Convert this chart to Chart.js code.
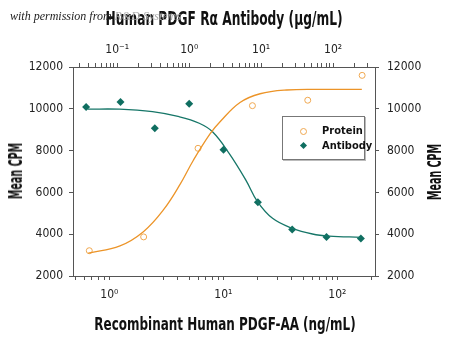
<!DOCTYPE html>
<html>
<head>
<meta charset="utf-8">
<script src="https://cdn.jsdelivr.net/npm/chart.js@4.4.1/dist/chart.umd.min.js"></script>
<style>
  body { margin: 0; background: #fff; }
  #wrap { position: relative; width: 450px; height: 339px; overflow: hidden; }
  .ttl { position: absolute; text-align: center; white-space: nowrap; color: #111;
         font-family: 'Liberation Sans Narrow', 'DejaVu Sans Condensed', sans-serif; font-weight: bold; }
  #topTitle { left: 24px; width: 400px; top: 8px; font-size: 20px; line-height: 20px; transform: scaleX(0.68); }
  #bottomTitle { left: 25px; width: 400px; top: 315px; font-size: 18px; line-height: 18px; transform: scaleX(0.74); }
  .side { width: 120px; height: 20px; font-size: 19px; line-height: 20px; transform: rotate(-90deg) scaleX(0.56); }
  #leftTitle { left: -45px; top: 161px; }
  #rightTitle { left: 374px; top: 162px; }
  #note { position: absolute; left: 10px; top: 9px; font: italic 12px 'Liberation Serif', serif; color: #222; white-space: nowrap; }
  #note span { color: #aaa; }
  #legend { position: absolute; left: 282px; top: 116px; width: 81px; height: 42px; border: 1px solid #777;
            box-shadow: 1px 1px 0 #bbb; background: #fff; color: #111;
            font: bold 11px 'Liberation Sans Narrow', 'DejaVu Sans Condensed', sans-serif; }
  .row { position: absolute; left: 0; height: 14px; line-height: 14px; }
  .row b { position: absolute; left: 39px; white-space: nowrap; }
  .circ { position: absolute; left: 17px; top: 4px; width: 5px; height: 5px; border: 1px solid #f0a850; border-radius: 50%; }
  .diam { position: absolute; left: 18px; top: 4px; width: 5px; height: 5px; background: #0f6e60; transform: rotate(45deg); }
</style>
</head>
<body>
<div id="wrap">
  <canvas id="chart"></canvas>
  <div class="ttl" id="topTitle">Human PDGF R&alpha; Antibody (&mu;g/mL)</div>
  <div class="ttl" id="bottomTitle">Recombinant Human PDGF-AA (ng/mL)</div>
  <div class="ttl side" id="leftTitle">Mean CPM</div>
  <div class="ttl side" id="rightTitle">Mean CPM</div>
  <div id="note">with permission from <span>R&amp;D Systems</span></div>
  <div id="legend">
    <div class="row" style="top:7px"><i class="circ"></i><b>Protein</b></div>
    <div class="row" style="top:22px"><i class="diam"></i><b>Antibody</b></div>
  </div>
</div>
<script>
// measured points
const proteinConc = [0.667, 2, 6, 18, 55, 165];
const proteinCpm = [3210, 3870, 8110, 10150, 10410, 11600];
const antibodyConc = [0.037, 0.111, 0.333, 1, 3, 9, 27, 81, 243];
const antibodyCpm = [10090, 10330, 9070, 10240, 8040, 5530, 4230, 3870, 3790];

// fitted curves
const proteinFitConc = [0.654, 1.24, 1.99, 2.98, 4.17, 5.46, 7.64, 9.36, 14.0, 21.0, 36.0, 70.5, 164];
const proteinFitCpm = [3090, 3440, 4120, 5160, 6380, 7540, 8800, 9380, 10300, 10720, 10900, 10930, 10930];
const antibodyFitConc = [0.0387, 0.107, 0.309, 0.726, 1.38, 2.11, 3.59, 6.13, 8.89, 14.4, 27.2, 51.6, 88, 243];
const antibodyFitCpm = [9980, 9980, 9860, 9620, 9310, 8900, 7870, 6590, 5560, 4760, 4280, 4010, 3910, 3850];

// axis ticks
const bottomTicks = [0.5, 0.6, 0.7, 0.8, 0.9, 1, 2, 3, 4, 5, 6, 7, 8, 9, 10, 20, 30, 40, 50, 60, 70, 80, 90, 100, 200];
const topTicks = [0.03, 0.04, 0.05, 0.06, 0.07, 0.08, 0.09, 0.1, 0.2, 0.3, 0.4, 0.5, 0.6, 0.7, 0.8, 0.9,
                  1, 2, 3, 4, 5, 6, 7, 8, 9, 10, 20, 30, 40, 50, 60, 70, 80, 90, 100, 200, 300];
const decadeLabels = { 0.1: '10\u207B\u00B9', 1: '10\u2070', 10: '10\u00B9', 100: '10\u00B2' };

const orange = 'rgb(236, 148, 40)';
const teal = 'rgb(22, 118, 104)';
const frame = '#555';
const narrow = "'Liberation Sans Narrow', 'DejaVu Sans Condensed', sans-serif";

function pairs(xs, ys) {
    return xs.map((x, i) => ({ x: x, y: ys[i] }));
}

function logAxis(pos, min, max, ticks, pad, size) {
    return {
        type: 'logarithmic',
        position: pos,
        min: min,
        max: max,
        afterBuildTicks: scale => { scale.ticks = ticks.map(v => ({ value: v })); },
        afterFit: scale => { scale.height = size; },
        grid: { drawOnChartArea: false, tickLength: 4, tickColor: frame },
        border: { display: true, color: frame, width: 1 },
        ticks: {
            autoSkip: false,
            maxRotation: 0,
            padding: pad,
            color: '#222',
            font: { family: narrow, size: 12 },
            callback: v => decadeLabels[v] || ''
        }
    };
}

function cpmAxis(pos, pad, size) {
    return {
        position: pos,
        min: 2000,
        max: 12000,
        afterFit: scale => { scale.width = size; },
        grid: { drawOnChartArea: false, tickLength: 4, tickColor: frame },
        border: { display: true, color: frame, width: 1 },
        ticks: {
            stepSize: 2000,
            padding: pad,
            color: '#222',
            font: { family: narrow, size: 12 },
            callback: v => String(v)
        }
    };
}

const ctx = document.getElementById('chart').getContext('2d');
const chart = new Chart(ctx, {
    type: 'line',
    data: {
        datasets: [
            {
                label: 'Protein fit',
                data: pairs(proteinFitConc, proteinFitCpm),
                xAxisID: 'x',
                yAxisID: 'y',
                borderColor: orange,
                borderWidth: 1.3,
                pointRadius: 0,
                tension: 0.4,
                fill: false
            },
            {
                label: 'Antibody fit',
                data: pairs(antibodyFitConc, antibodyFitCpm),
                xAxisID: 'x2',
                yAxisID: 'y',
                borderColor: teal,
                borderWidth: 1.3,
                pointRadius: 0,
                tension: 0.4,
                fill: false
            },
            {
                label: 'Protein',
                data: pairs(proteinConc, proteinCpm),
                xAxisID: 'x',
                yAxisID: 'y',
                showLine: false,
                pointStyle: 'circle',
                pointRadius: 3,
                pointBorderWidth: 1,
                pointBorderColor: 'rgb(240, 168, 80)',
                pointBackgroundColor: '#fff'
            },
            {
                label: 'Antibody',
                data: pairs(antibodyConc, antibodyCpm),
                xAxisID: 'x2',
                yAxisID: 'y',
                showLine: false,
                pointStyle: 'rectRot',
                pointRadius: 4,
                pointBorderWidth: 0,
                pointBackgroundColor: 'rgb(15, 110, 96)'
            }
        ]
    },
    options: {
        responsive: true,
        maintainAspectRatio: false,
        animation: false,
        layout: { padding: 0 },
        plugins: {
            legend: { display: false },
            tooltip: { enabled: false }
        },
        scales: {
            x: logAxis('bottom', 0.48, 214, bottomTicks, 8, 63),
            x2: logAxis('top', 0.0243, 382, topTicks, 6, 67),
            y: cpmAxis('left', 6, 73),
            y2: cpmAxis('right', 8, 75)
        }
    }
});
</script>
</body>
</html>
